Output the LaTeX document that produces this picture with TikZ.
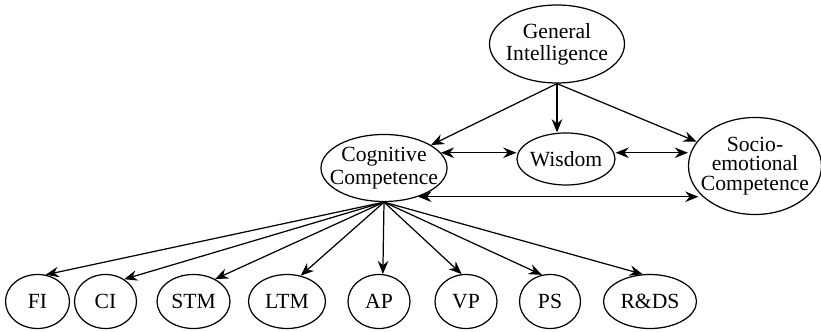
\documentclass[tikz,border=0pt]{standalone}
\usepackage{fontspec}
\setmainfont{Liberation Serif}
\usetikzlibrary{arrows.meta,shapes.geometric}

\begin{document}
\begin{tikzpicture}[
		>={Stealth[length=7.5pt,width=6pt,inset=2.5pt]},
		line width=0.7pt,
		factor/.style={ellipse, draw, align=center, inner xsep=-8pt, inner ysep=0pt, font=\fontsize{12.3}{12.7}\selectfont},
		ability/.style={ellipse, draw, minimum height=1.08cm, inner sep=0pt, font=\fontsize{12.3}{12.7}\selectfont}]
		\useasboundingbox (0, 0) rectangle (16.42, 6.64);

		\node[factor, minimum width=2.7cm, minimum height=1.56cm] (gi) at (11.14, 5.76) {General\\Intelligence};
		\node[factor, minimum width=1.96cm, minimum height=1.04cm] (wis) at (11.32, 3.46) {Wisdom};
		\node[factor, minimum width=2.52cm, minimum height=1.34cm] (cog) at (7.68, 3.28) {Cognitive\\Competence};
		\node[factor, minimum width=2.66cm, minimum height=1.94cm, font=\fontsize{12.3}{10.9}\selectfont] (soc) at (15.10, 3.32) {Socio-\\emotional\\Competence};

		\node[ability, minimum width=1.28cm] (fi) at (0.75, 0.61) {FI};
		\node[ability, minimum width=1.24cm] (ci) at (2.11, 0.61) {CI};
		\node[ability, minimum width=1.46cm] (stm) at (3.87, 0.61) {STM};
		\node[ability, minimum width=1.54cm] (ltm) at (5.74, 0.61) {LTM};
		\node[ability, minimum width=1.24cm] (ap) at (7.58, 0.61) {AP};
		\node[ability, minimum width=1.24cm] (vp) at (9.32, 0.61) {VP};
		\node[ability, minimum width=1.22cm] (ps) at (11.00, 0.61) {PS};
		\node[ability, minimum width=1.86cm] (rds) at (13.00, 0.61) {R\&DS};

		% from general intelligence
		\draw[->] (gi.south) -- (cog);
		\draw[->] (gi.south) -- (gi.south |- wis.north);
		\draw[->] (gi.south) -- (soc);

		% between the three competences
		\draw[<->] (cog.15) -- (cog.15 -| wis.west);
		\draw[<->] (cog.15 -| wis.east) -- (cog.15 -| soc.west);
		\draw[<->] (cog.-40) -- (cog.-40 -| soc.205);

		% down to the abilities
		\draw[->] (cog.south) -- (fi.73);
		\draw[->] (cog.south) -- (ci.50);
		\draw[->] (cog.south) -- (stm.46);
		\draw[->] (cog.south) -- (ltm.62);
		\draw[->] (cog.south) -- (ap.82);
		\draw[->] (cog.south) -- (vp.99);
		\draw[->] (cog.south) -- (ps.107);
		\draw[->] (cog.south) -- (rds.105);
	\end{tikzpicture}
\end{document}
